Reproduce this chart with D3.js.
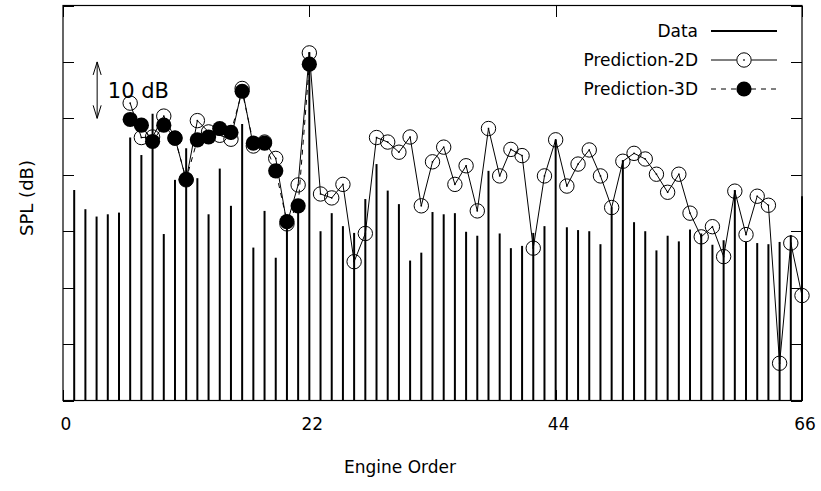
<!DOCTYPE html>
<html>
<head>
<meta charset="utf-8">
<script src="https://cdn.jsdelivr.net/npm/d3@7"></script>
<style>
  html, body { margin: 0; padding: 0; background: #fff; }
  svg { display: block; }
  text { font-family: "DejaVu Sans", Verdana, sans-serif; fill: #000; }
</style>
</head>
<body>
<svg id="chart" width="821" height="491"></svg>
<script>
// Measured spectrum: SPL level per engine order (bars)
const dataOrders = [1,2,3,4,5,6,7,8,9,10,11,12,13,14,15,16,17,18,19,20,21,22,23,24,25,26,27,28,29,30,31,32,33,
  34,35,36,37,38,39,40,41,42,43,44,45,46,47,48,49,50,51,52,53,54,55,56,57,58,59,60,61,62,63,64,65,66];
const dataSPL = [37.3,33.9,32.6,33.0,33.3,46.6,43.5,50.8,29.5,39.1,44.7,39.4,33.0,41.1,34.5,49.0,27.1,33.6,25.3,32.5,
  34.5,61.7,30.0,33.2,30.9,29.7,35.7,41.9,37.2,34.8,24.8,26.2,33.4,33.0,33.2,29.9,29.2,40.7,29.6,27.0,27.4,29.7,30.9,
  46.2,30.7,30.2,30.0,27.7,34.2,42.6,31.6,30.0,26.6,29.2,28.2,30.3,29.6,27.6,28.4,37.3,28.1,27.9,27.7,28.1,29.3,36.2];

// 2D model prediction, orders 6..66
const pred2DOrders = [6,7,8,9,10,11,12,13,14,15,16,17,18,19,20,21,22,23,24,25,26,27,28,29,30,31,32,33,34,35,36,37,
  38,39,40,41,42,43,44,45,46,47,48,49,50,51,52,53,54,55,56,57,58,59,60,61,62,63,64,65,66];
const pred2DSPL = [52.7,46.6,46.7,50.4,46.5,39.1,49.6,47.6,47.0,46.3,55.3,45.1,45.8,42.9,31.3,38.2,61.6,36.6,35.9,38.3,
  24.6,29.6,46.6,45.8,44.0,46.7,34.5,42.3,44.9,38.3,41.6,33.6,48.2,39.8,44.5,43.4,27.0,39.8,46.2,38.0,41.9,44.4,39.8,
  34.2,42.4,43.8,42.8,40.1,36.9,40.1,33.2,29.0,30.8,25.5,37.1,29.4,36.2,34.6,6.6,27.9,18.6];

// 3D model prediction, orders 6..22
const pred3DOrders = [6,7,8,9,10,11,12,13,14,15,16,17,18,19,20,21,22];
const pred3DSPL = [49.8,48.8,45.9,48.8,46.5,39.2,46.2,46.7,48.2,47.5,54.8,45.6,45.6,40.7,31.7,34.5,59.6];

const xTickValues = [0, 22, 44, 66];
const yTickValues = [0, 10, 20, 30, 40, 50, 60, 70];

const legendLabels = ["Data", "Prediction-2D", "Prediction-3D"];

const svg = d3.select("#chart");
const plot = { left: 63, right: 802, top: 5.5, bottom: 400.5 };

const x = d3.scaleLinear().domain([0, 66]).range([plot.left, plot.right]);
const y = d3.scaleLinear().domain([0, 70]).range([plot.bottom, plot.top]);

const tickLen = 11;

// Frame ticks (drawn inward, mirrored on all four sides)
const axisBottom = d3.axisBottom(x).tickValues(xTickValues).tickSize(-tickLen).tickFormat("");
const axisTop = d3.axisTop(x).tickValues(xTickValues).tickSize(-tickLen).tickFormat("");
const axisLeft = d3.axisLeft(y).tickValues(yTickValues).tickSize(-tickLen).tickFormat("");
const axisRight = d3.axisRight(y).tickValues(yTickValues).tickSize(-tickLen).tickFormat("");

function styleAxis(g) {
  g.select(".domain").remove();
  g.selectAll(".tick line").attr("stroke", "#000").attr("stroke-width", 1).attr("shape-rendering", "crispEdges");
}
svg.append("g").attr("transform", `translate(0,${plot.bottom})`).call(axisBottom).call(styleAxis);
svg.append("g").attr("transform", `translate(0,${plot.top})`).call(axisTop).call(styleAxis);
svg.append("g").attr("transform", `translate(${plot.left},0)`).call(axisLeft).call(styleAxis);
svg.append("g").attr("transform", `translate(${plot.right},0)`).call(axisRight).call(styleAxis);

// X tick labels
svg.append("g").selectAll("text").data(xTickValues).join("text")
  .attr("x", d => x(d) + 3)
  .attr("y", 430)
  .attr("text-anchor", "middle")
  .attr("font-size", 17)
  .text(d => d);

// Axis titles
svg.append("text")
  .attr("x", 400).attr("y", 473)
  .attr("text-anchor", "middle").attr("font-size", 17)
  .text("Engine Order");
svg.append("text")
  .attr("transform", `translate(32.5,${(plot.top + plot.bottom) / 2 - 5}) rotate(-90)`)
  .attr("text-anchor", "middle").attr("font-size", 18)
  .text("SPL (dB)");

// Data bars (impulses)
const data = dataOrders.map((o, i) => ({ o, v: dataSPL[i] }));
svg.append("g").selectAll("line").data(data).join("line")
  .attr("x1", d => x(d.o)).attr("x2", d => x(d.o))
  .attr("y1", y(0)).attr("y2", d => y(d.v))
  .attr("stroke", "#000").attr("stroke-width", 2);

// 2D prediction
const p2 = pred2DOrders.map((o, i) => ({ o, v: pred2DSPL[i] }));
const line = d3.line().x(d => x(d.o)).y(d => y(d.v));
svg.append("path").datum(p2).attr("d", line)
  .attr("fill", "none").attr("stroke", "#000").attr("stroke-width", 1);
const g2 = svg.append("g");
g2.selectAll("circle").data(p2).join("circle")
  .attr("cx", d => x(d.o)).attr("cy", d => y(d.v)).attr("r", 7.2)
  .attr("fill", "none").attr("stroke", "#000").attr("stroke-width", 1);
g2.selectAll("rect").data(p2).join("rect")
  .attr("x", d => x(d.o) - 0.75).attr("y", d => y(d.v) - 0.75)
  .attr("width", 1.5).attr("height", 1.5).attr("fill", "#000");

// 3D prediction
const p3 = pred3DOrders.map((o, i) => ({ o, v: pred3DSPL[i] }));
svg.append("path").datum(p3).attr("d", line)
  .attr("fill", "none").attr("stroke", "#000").attr("stroke-width", 1)
  .attr("stroke-dasharray", "5,5");
svg.append("g").selectAll("circle").data(p3).join("circle")
  .attr("cx", d => x(d.o)).attr("cy", d => y(d.v)).attr("r", 7.6)
  .attr("fill", "#000");

// 10 dB scale arrow
const ax = x(3.05), aTop = y(60), aBot = y(50);
const arrow = svg.append("g").attr("stroke", "#000").attr("stroke-width", 1).attr("fill", "none");
arrow.append("line").attr("x1", ax).attr("x2", ax).attr("y1", aTop).attr("y2", aBot);
arrow.append("path").attr("d", `M${ax - 4},${aTop + 13} L${ax},${aTop} L${ax + 4},${aTop + 13}`);
arrow.append("path").attr("d", `M${ax - 4},${aBot - 13} L${ax},${aBot} L${ax + 4},${aBot - 13}`);
svg.append("text")
  .attr("x", x(4)).attr("y", y(55) + 8)
  .attr("font-size", 21)
  .text("10 dB");

// Legend
const legY = [31, 60, 89];
const leg = svg.append("g");
legendLabels.forEach((lab, i) => {
  leg.append("text").attr("x", 698).attr("y", legY[i] + 6)
    .attr("text-anchor", "end").attr("font-size", 17).text(lab);
});
leg.append("line").attr("x1", 711).attr("x2", 777).attr("y1", legY[0]).attr("y2", legY[0])
  .attr("stroke", "#000").attr("stroke-width", 2);
leg.append("line").attr("x1", 711).attr("x2", 736.5).attr("y1", legY[1]).attr("y2", legY[1])
  .attr("stroke", "#000").attr("stroke-width", 1);
leg.append("line").attr("x1", 751.5).attr("x2", 777).attr("y1", legY[1]).attr("y2", legY[1])
  .attr("stroke", "#000").attr("stroke-width", 1);
leg.append("circle").attr("cx", 744).attr("cy", legY[1]).attr("r", 7.2)
  .attr("fill", "none").attr("stroke", "#000");
leg.append("rect").attr("x", 743.25).attr("y", legY[1] - 0.75).attr("width", 1.5).attr("height", 1.5).attr("fill", "#000");
leg.append("line").attr("x1", 711).attr("x2", 777).attr("y1", legY[2]).attr("y2", legY[2])
  .attr("stroke", "#000").attr("stroke-width", 1).attr("stroke-dasharray", "5,5");
leg.append("circle").attr("cx", 744).attr("cy", legY[2]).attr("r", 7.6).attr("fill", "#000");

// Plot frame
svg.append("rect")
  .attr("x", plot.left).attr("y", plot.top)
  .attr("width", plot.right - plot.left).attr("height", plot.bottom - plot.top)
  .attr("fill", "none").attr("stroke", "#000").attr("stroke-width", 1.2);
</script>
</body>
</html>
